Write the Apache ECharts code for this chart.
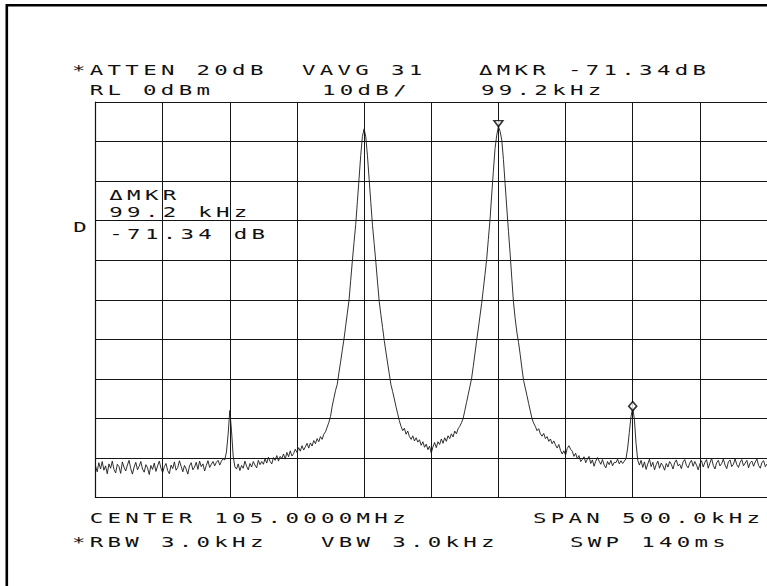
<!DOCTYPE html>
<html>
<head>
<meta charset="utf-8">
<script src="https://cdn.jsdelivr.net/npm/echarts@6/dist/echarts.min.js"></script>
<style>
  html, body { margin: 0; padding: 0; background: #fff; overflow: hidden; }
  #chart { width: 767px; height: 586px; }
  #chart text { letter-spacing: 2.7px; }
</style>
</head>
<body>
<div id="chart"></div>
<script>
// ---- Instrument settings (spectrum analyzer plot) ----
const centerMHz = 105.0;
const spanKHz = 500;
const refLevelDbm = 0;
const dbPerDiv = 10;
const xTickKHz = [-250, -200, -150, -100, -50, 0, 50, 100, 150, 200, 250];
const yTickDbm = [0, -10, -20, -30, -40, -50, -60, -70, -80, -90, -100];

// ---- Trace: 401 points across the span, dBm ----
const traceStartKHz = -250;
const traceStepKHz = 1.25;
const traceDbm = [
  // -250 .. -155 kHz : noise floor
  -92.0,-93.5,-91.2,-92.8,-90.9,-93.1,-92.0,-94.0,-91.5,-92.6,
  -90.8,-92.9,-93.8,-91.6,-92.2,-93.9,-91.0,-92.4,-93.3,-91.8,
  -90.6,-92.7,-94.1,-92.3,-91.1,-93.0,-92.1,-90.9,-92.8,-93.6,
  -91.7,-92.5,-94.2,-91.9,-92.9,-91.3,-93.4,-92.0,-90.8,-92.6,
  -93.7,-92.2,-91.4,-93.2,-94.0,-91.8,-92.7,-91.0,-93.1,-92.4,
  -90.7,-92.1,-93.5,-91.9,-92.8,-94.1,-92.0,-91.2,-93.0,-92.3,
  -91.1,-92.9,-90.8,-92.2,-91.5,-93.3,-91.9,-90.7,-92.4,-91.6,
  -90.9,-92.0,-91.1,-90.6,-91.8,-90.8,-90.2,
  // spur at -150 kHz
  -90.5,-88.5,-84.0,-78.0,-83.0,-89.5,-92.2,
  // rising skirt toward carrier 1
  -92.8,-91.5,-93.2,-91.9,-92.6,-90.8,-92.1,-93.0,-91.4,-92.3,-90.9,-91.8,-92.5,-90.6,-91.7,-90.9,
  -91.6,-90.2,-91.3,-89.8,-90.9,-91.5,-89.9,-90.6,-89.4,-90.8,-89.6,-90.1,
  -89.0,-90.3,-88.6,-89.7,-88.2,-89.5,-88.9,-87.8,
  -88.6,-87.4,-88.3,-86.9,-88.0,-87.2,-86.3,-87.5,
  -86.2,-87.0,-85.6,-86.4,-85.1,-85.9,-84.6,-85.3,
  -84.0,-83.4,-82.2,-81.0,
  // carrier 1 (-50 kHz)
  -79.5,-76.9,-74.9,-72.9,-71.4,-68.5,-65.7,-62.8,-60.0,-56.7,
  -53.4,-50.2,-45.2,-40.2,-35.5,-31.0,-25.2,-19.3,-13.5,-8.7,
  -6.8,
  -8.8,-13.6,-19.5,-25.4,-31.2,-35.8,-40.5,-45.5,-50.4,-53.8,
  -57.0,-60.3,-63.2,-66.0,-68.8,-71.5,-73.2,-75.1,-77.0,-78.8,
  -80.6,
  // valley between carriers
  -82.0,-83.1,-82.5,-84.0,-83.2,-84.6,-85.3,-84.4,-85.7,-84.9,-86.0,
  -85.4,-86.8,-85.9,-87.3,-86.5,-87.9,-87.0,-88.8,-87.2,-86.1,-87.4,
  -85.9,-86.6,-85.2,-86.3,-84.9,-85.8,-84.4,-85.1,-83.9,-84.7,
  -83.2,-83.9,-82.6,-82.0,-81.1,
  // carrier 2 (+50 kHz, marker)
  -80.0,-78.0,-76.0,-74.0,-72.0,-70.0,
  -66.9,-63.7,-60.5,-57.4,-54.2,-51.0,
  -47.4,-43.6,-39.8,-34.8,-29.8,-23.5,
  -17.5,-11.8,-8.4,-6.2,-7.4,-9.6,
  -14.5,-20.7,-26.8,-32.7,-38.4,-44.7,
  -50.7,-54.8,-58.2,-60.8,-63.9,-67.3,
  -70.4,-72.3,-74.2,-76.2,-78.1,-80.0,
  // falling skirt
  -81.2,-82.0,-83.1,-82.6,-83.9,-84.5,-83.8,-85.1,-84.6,-85.8,
  -85.2,-86.4,-85.7,-86.7,-87.5,-86.6,-88.1,-89.0,-88.2,-89.3,
  -87.6,-86.9,-87.8,-88.3,-89.6,-88.8,-90.2,-89.4,-90.9,-90.4,
  -89.7,-91.2,-90.3,-89.6,-91.4,-90.5,-92.1,-90.8,-89.9,-90.8,
  -91.6,-90.4,-91.8,-92.5,-90.9,-91.7,-90.6,-92.0,-91.1,-91.2,
  -90.3,-91.5,-90.7,-91.4,-90.8,
  // spur at +150 kHz (delta marker)
  -90.2,-87.5,-83.5,-79.5,-77.3,-80.2,-86.3,-90.6,
  // noise floor to +250 kHz
  -91.8,-90.6,-92.4,-91.0,-92.9,-91.5,-90.3,-92.2,-91.1,-93.0,
  -91.7,-90.8,-92.6,-91.3,-92.0,-93.1,-91.4,-92.3,-90.9,-91.6,
  -92.8,-91.2,-90.5,-92.0,-91.6,-92.7,-91.0,-90.4,-91.9,-92.5,
  -91.3,-90.6,-92.1,-90.9,-91.8,-93.0,-91.5,-90.7,-92.3,-91.1,
  -90.4,-92.6,-91.3,-90.1,-91.9,-92.8,-91.2,-90.6,-92.0,-91.4,
  -90.3,-91.8,-92.7,-91.0,-90.5,-92.2,-91.6,-90.2,-91.7,-92.4,
  -91.1,-90.4,-92.0,-91.3,-90.6,-92.5,-91.2,-90.8,-92.1,-91.0,
  -90.3,-91.9,-92.6,-91.1,-90.7,-92.2,-91.5
];

// ---- Markers ----
const markerMain = [50, -6.2];     // ▽ reference marker
const markerDelta = [150, -77.3];  // ◇ delta marker

// ---- Annotation texts ----
const headerRow1 = ['*ATTEN 20dB', 'VAVG 31', '\u0394MKR -71.34dB'];
const headerRow2 = ['RL 0dBm', '10dB/', '99.2kHz'];
const markerBox = ['\u0394MKR', '99.2 kHz', '-71.34 dB'];
const sideLabel = 'D';
const footerRow1 = ['CENTER 105.0000MHz', 'SPAN 500.0kHz'];
const footerRow2 = ['*RBW 3.0kHz', 'VBW 3.0kHz', 'SWP 140ms'];

// ---- Build ----
const traceData = traceDbm.map((v, i) => [traceStartKHz + i * traceStepKHz, v]);

const FONT = 'DejaVu Sans Mono';
function label(str, x, y) {
  return {
    type: 'text', x: x, y: y, scaleX: 1.6, scaleY: 1, silent: true,
    style: { text: str, fontFamily: FONT, fontSize: 14, fill: '#111',
             align: 'left', verticalAlign: 'middle' }
  };
}

const graphics = [
  { type: 'polyline', silent: true, shape: { points: [[6.8, 600], [6.8, 5.3], [780, 5.3]] },
    style: { fill: null, stroke: '#000', lineWidth: 2.6 } },
  label(headerRow1[0], 72, 70), label(headerRow1[1], 302, 70), label(headerRow1[2], 479, 70),
  label(headerRow2[0], 89.7, 90.5), label(headerRow2[1], 322, 90.5), label(headerRow2[2], 481, 90.5),
  label(markerBox[0], 109.3, 194.7), label(markerBox[1], 109.3, 212), label(markerBox[2], 109.3, 233.7),
  label(sideLabel, 73.3, 227),
  label(footerRow1[0], 89.7, 518), label(footerRow1[1], 533, 518),
  label(footerRow2[0], 72, 542), label(footerRow2[1], 321, 542), label(footerRow2[2], 570, 542)
];

const chart = echarts.init(document.getElementById('chart'), null, { renderer: 'svg' });
chart.setOption({
  animation: false,
  backgroundColor: '#fff',
  grid: { left: 95.5, top: 102, width: 671.5, height: 395.5, containLabel: false },
  xAxis: {
    type: 'value', min: xTickKHz[0], max: xTickKHz[xTickKHz.length - 1], interval: spanKHz / 10,
    axisLabel: { show: false }, axisTick: { show: false },
    axisLine: { show: true, onZero: false, lineStyle: { color: '#111', width: 1.2 } },
    splitLine: { show: true, showMaxLine: false, lineStyle: { color: '#151515', width: 1 } }
  },
  yAxis: {
    type: 'value', min: yTickDbm[yTickDbm.length - 1], max: refLevelDbm, interval: dbPerDiv,
    axisLabel: { show: false }, axisTick: { show: false },
    axisLine: { show: true, onZero: false, lineStyle: { color: '#111', width: 1.2 } },
    splitLine: { show: true, lineStyle: { color: '#151515', width: 1 } }
  },
  series: [
    {
      type: 'line', data: traceData, showSymbol: false, silent: true,
      lineStyle: { color: '#1a1a1a', width: 0.9 }, z: 3
    },
    {
      type: 'scatter', data: [markerMain], symbol: 'triangle', symbolRotate: 180,
      symbolSize: [9, 6], symbolOffset: [0, -3], silent: true, z: 4,
      itemStyle: { color: '#fff', borderColor: '#000', borderWidth: 1.5 }
    },
    {
      type: 'scatter', data: [markerDelta], symbol: 'diamond',
      symbolSize: [8, 9], symbolOffset: [0, -1.5], silent: true, z: 4,
      itemStyle: { color: '#fff', borderColor: '#000', borderWidth: 1.6 }
    }
  ],
  graphic: graphics
});
</script>
</body>
</html>
